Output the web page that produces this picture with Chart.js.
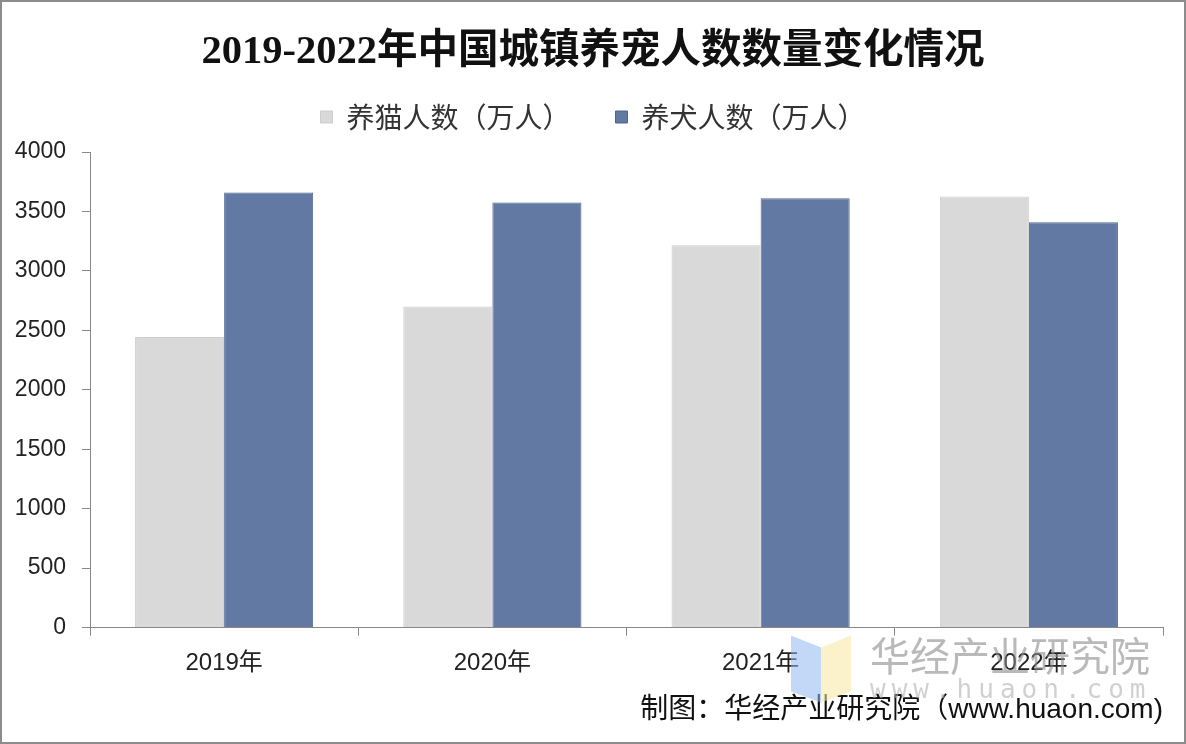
<!DOCTYPE html>
<html>
<head>
<meta charset="utf-8">
<script src="https://cdn.jsdelivr.net/npm/chart.js@4/dist/chart.umd.min.js"></script>
<style>
  html, body { margin: 0; padding: 0; background: #fff; }
  #wrap { width: 1186px; height: 744px; position: relative; }
</style>
</head>
<body>
<div id="wrap"><canvas id="c" width="1186" height="744"></canvas></div>
<script>
const categories = ['2019年', '2020年', '2021年', '2022年'];
const catOwners = [2445, 2700, 3215, 3625];
const dogOwners = [3660, 3575, 3610, 3410];
const seriesNames = ['养猫人数（万人）', '养犬人数（万人）'];
const yTicks = [0, 500, 1000, 1500, 2000, 2500, 3000, 3500, 4000];
const titleText = '2019-2022年中国城镇养宠人数数量变化情况';
const sourceText = '制图：华经产业研究院（www.huaon.com)';

const sans = '"Liberation Sans", Arial, "Noto Sans CJK SC", sans-serif';
const serif = '"Liberation Serif", "Times New Roman", "Noto Sans CJK SC", serif';

const frameAndMark = {
  id: 'frameAndMark',
  afterLayout(chart) {
    // let the y tick labels use the left margin without being clipped
    const y = chart.scales.y;
    y.left = 0;
    y.width = y.right;
  },
  beforeDraw(chart) {
    const ctx = chart.ctx;
    ctx.save();
    ctx.fillStyle = '#ffffff';
    ctx.fillRect(0, 0, chart.width, chart.height);
    ctx.restore();
  },
  afterDraw(chart) {
    const ctx = chart.ctx;
    const a = chart.chartArea;
    ctx.save();
    // watermark logo
    ctx.globalAlpha = 0.55;
    ctx.fillStyle = '#8fb8ee';
    ctx.beginPath();
    ctx.moveTo(a.right - 372, a.bottom + 8);
    ctx.lineTo(a.right - 342, a.bottom + 20);
    ctx.lineTo(a.right - 342, a.bottom + 75);
    ctx.lineTo(a.right - 372, a.bottom + 64);
    ctx.closePath();
    ctx.fill();
    ctx.fillStyle = '#f7e7a0';
    ctx.beginPath();
    ctx.moveTo(a.right - 342, a.bottom + 20);
    ctx.lineTo(a.right - 312, a.bottom + 8);
    ctx.lineTo(a.right - 312, a.bottom + 64);
    ctx.lineTo(a.right - 342, a.bottom + 75);
    ctx.closePath();
    ctx.fill();
    ctx.globalAlpha = 0.6;
    ctx.fillStyle = '#8a8a8a';
    ctx.font = '40px "Noto Sans CJK SC", sans-serif';
    ctx.textBaseline = 'middle';
    ctx.textAlign = 'left';
    ctx.fillText('华经产业研究院', a.right - 293, a.bottom + 28);
    ctx.fillStyle = '#b0b0b0';
    ctx.font = '26px "DejaVu Sans Mono", monospace';
    try { ctx.letterSpacing = '6px'; } catch (e) {}
    ctx.fillText('www.huaon.com', a.right - 293, a.bottom + 64);
    ctx.restore();
    // frame
    ctx.save();
    ctx.strokeStyle = '#8c8c8c';
    ctx.lineWidth = 2;
    ctx.strokeRect(1, 1, chart.width - 2, chart.height - 2);
    ctx.restore();
  }
};

new Chart(document.getElementById('c'), {
  type: 'bar',
  data: {
    labels: categories,
    datasets: [
      {
        label: seriesNames[0],
        data: catOwners,
        backgroundColor: '#d9d9d9',
        borderColor: '#cdcdcd',
        borderWidth: 1,
        categoryPercentage: 0.664,
        barPercentage: 1.0
      },
      {
        label: seriesNames[1],
        data: dogOwners,
        backgroundColor: '#6279a3',
        borderColor: '#4e6590',
        borderWidth: 1,
        categoryPercentage: 0.664,
        barPercentage: 1.0
      }
    ]
  },
  options: {
    responsive: false,
    animation: false,
    devicePixelRatio: 1,
    layout: { padding: { left: 23, right: 23, top: 0, bottom: 17 } },
    plugins: {
      title: {
        display: true,
        text: titleText,
        color: '#111',
        font: { family: serif, size: 40.5, weight: 'bold' },
        padding: { top: 28, bottom: -18.6 }
      },
      legend: {
        display: true,
        position: 'top',
        labels: {
          boxWidth: 12,
          boxHeight: 12,
          padding: 45,
          color: '#333',
          font: { family: '"Noto Sans CJK SC", sans-serif', size: 28 }
        }
      },
      subtitle: {
        display: true,
        position: 'bottom',
        align: 'end',
        text: sourceText,
        color: '#111',
        font: { family: sans, size: 28 },
        padding: { top: 3, bottom: 0 }
      },
      tooltip: { enabled: false }
    },
    scales: {
      x: {
        offset: true,
        grid: {
          display: true,
          offset: true,
          drawOnChartArea: false,
          drawTicks: true,
          tickLength: 8,
          color: '#888'
        },
        border: { display: true, color: '#888', width: 1 },
        ticks: {
          color: '#222',
          font: { family: sans, size: 24 },
          padding: 13
        }
      },
      xTop: {
        type: 'category',
        position: 'top',
        display: true,
        grid: { display: false, drawTicks: false },
        border: { display: false },
        ticks: { display: false },
        afterFit(scale) { scale.height = 11; }
      },
      y: {
        min: 0,
        max: 4000,
        afterBuildTicks(scale) { scale.ticks = yTicks.map(v => ({ value: v })); },
        afterFit(scale) { scale.width = 67; },
        grid: {
          display: true,
          drawOnChartArea: false,
          drawTicks: true,
          tickLength: 8,
          color: '#888'
        },
        border: { display: true, color: '#888', width: 1 },
        ticks: {
          color: '#222',
          font: { family: sans, size: 23 },
          padding: 16,
          callback: (v) => String(v)
        }
      }
    }
  },
  plugins: [frameAndMark]
});
</script>
</body>
</html>
